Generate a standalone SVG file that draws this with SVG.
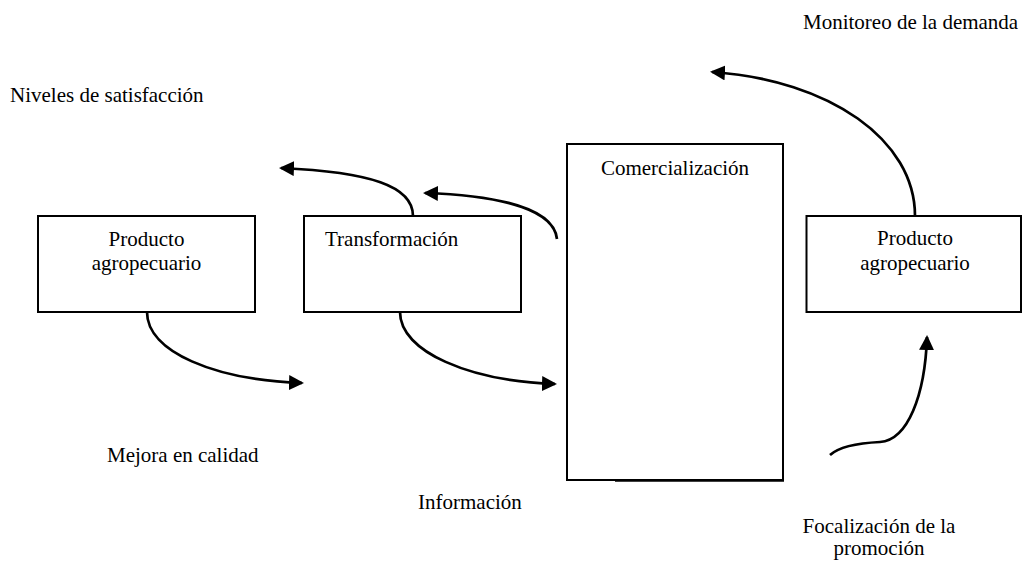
<svg xmlns="http://www.w3.org/2000/svg" width="1022" height="563" viewBox="0 0 1022 563">
<style>
.box{fill:#fff;stroke:#000;stroke-width:2}
.lbl{font-family:"Liberation Serif","Times New Roman",serif;font-size:21px;fill:#000}
.mid{text-anchor:middle}
.con{fill:none;stroke:#000;stroke-width:2.7}
</style>
<defs>
<marker id="ah" markerUnits="userSpaceOnUse" markerWidth="16" markerHeight="16" refX="13" refY="7.5" orient="auto">
<path d="M0,0 L15,7.5 L0,15 z" fill="#000"/>
</marker>
</defs>
<rect width="1022" height="563" fill="#fff"/>
<g id="node-producto-1">
<rect class="box" x="38" y="216" width="217" height="96"/>
<text class="lbl mid" x="146.5" y="246">Producto</text>
<text class="lbl mid" x="146.5" y="270">agropecuario</text>
</g>
<g id="node-transformacion">
<rect class="box" x="304" y="216" width="217" height="96"/>
<text class="lbl" x="325" y="246">Transformación</text>
</g>
<g id="node-comercializacion">
<rect class="box" x="567" y="144" width="216" height="336"/>
<line x1="615" y1="480.5" x2="784" y2="480.5" stroke="#000" stroke-width="2.5"/>
<text class="lbl mid" x="675" y="175">Comercialización</text>
</g>
<g id="node-producto-2">
<rect class="box" x="806.5" y="216" width="214.5" height="96"/>
<text class="lbl mid" x="915" y="245">Producto</text>
<text class="lbl mid" x="915" y="270">agropecuario</text>
</g>
<g id="connectors">
<path class="con" marker-end="url(#ah)" d="M147,312 C147,352 215,380 302,383"/>
<path class="con" marker-end="url(#ah)" d="M400,312 C400,352 470,381 555,384"/>
<path class="con" marker-end="url(#ah)" d="M413,216 C413,186 370,172 281,168"/>
<path class="con" marker-end="url(#ah)" d="M557,239 C554,212 510,196 425,193"/>
<path class="con" marker-end="url(#ah)" d="M915,216 C915,140 830,80 712,72"/>
<path class="con" marker-end="url(#ah)" d="M830,455 C840,446 860,443 880,442 C908,440 925,395 927,337"/>
</g>
<g id="labels">
<text class="lbl" x="803" y="29">Monitoreo de la demanda</text>
<text class="lbl" x="10" y="102">Niveles de satisfacción</text>
<text class="lbl" x="107" y="462">Mejora en calidad</text>
<text class="lbl" x="418" y="509">Información</text>
<text class="lbl mid" x="879" y="533">Focalización de la</text>
<text class="lbl mid" x="879" y="555">promoción</text>
</g>
</svg>
